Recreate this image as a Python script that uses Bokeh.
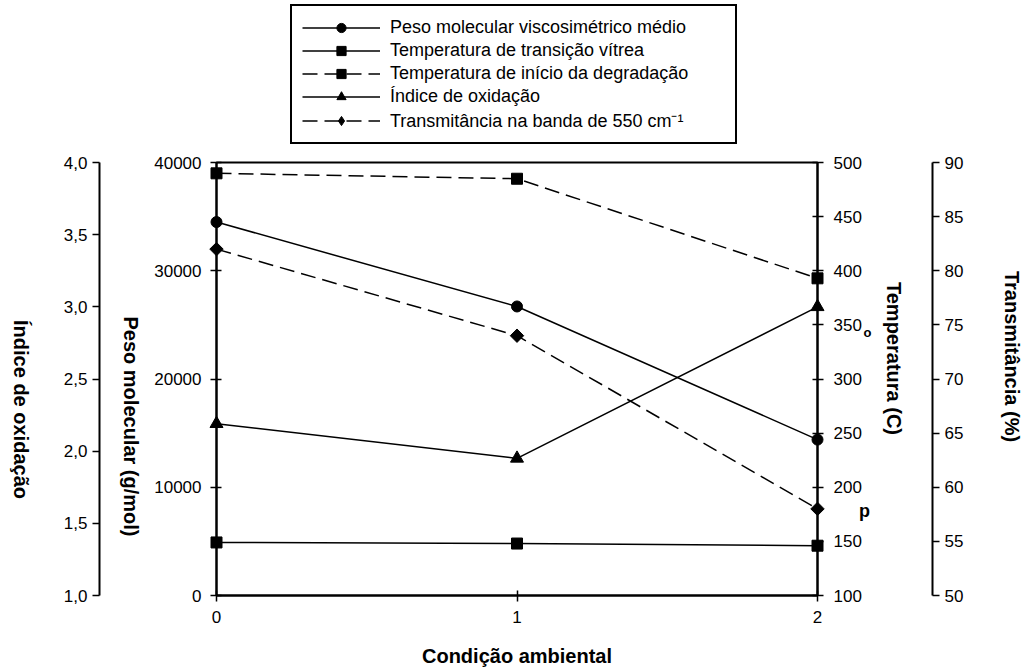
import math
from bokeh.plotting import figure
from bokeh.layouts import column
from bokeh.models import LinearAxis, Range1d, FixedTicker, Legend, LegendItem
from bokeh.core.properties import value
from bokeh.embed import file_html
from bokeh.resources import INLINE

# ---------------- data ----------------
condicao = [0, 1, 2]
peso_molecular = [34500, 26700, 14400]          # g/mol
temp_transicao_vitrea = [149, 148, 146]          # C
temp_inicio_degradacao = [490, 485, 393]         # C
indice_oxidacao = [2.19, 1.95, 3.0]
transmitancia = [82, 74, 58]                     # %

series_labels = [
    "Peso molecular viscosimétrico médio",
    "Temperatura de transição vítrea",
    "Temperatura de início da degradação",
    "Índice de oxidação",
    "Transmitância na banda de 550 cm\u207b\u00b9",
]

x_ticks = [0, 1, 2]
x_tick_labels = ["0", "1", "2"]
peso_ticks = [0, 10000, 20000, 30000, 40000]
peso_tick_labels = ["0", "10000", "20000", "30000", "40000"]
indice_ticks = [1.0, 1.5, 2.0, 2.5, 3.0, 3.5, 4.0]
indice_tick_labels = ["1,0", "1,5", "2,0", "2,5", "3,0", "3,5", "4,0"]
temp_ticks = [100, 150, 200, 250, 300, 350, 400, 450, 500]
temp_tick_labels = ["100", "150", "200", "250", "300", "350", "400", "450", "500"]
trans_ticks = [50, 55, 60, 65, 70, 75, 80, 85, 90]
trans_tick_labels = ["50", "55", "60", "65", "70", "75", "80", "85", "90"]

x_title = "Condição ambiental"
indice_title = "Índice de oxidação"
peso_title = "Peso molecular (g/mol)"
temp_title = "Temperatura (C)"
trans_title = "Transmitância (%)"

FONT = "Liberation Sans"
LW = 1.5
DASH = "15 7"

# series styles in the chart: (marker, size, angle, dash)
styles = [
    ("circle", 11, 0.0, "solid"),
    ("square", 11, 0.0, "solid"),
    ("square", 11, 0.0, DASH),
    ("triangle", 13, 0.0, "solid"),
    ("square", 9.5, math.pi / 4, DASH),
]
# markers used for the legend samples (legend samples ignore angle)
legend_markers = ["circle", "square", "square", "triangle", "diamond"]

W = 1023
LEG_H = 148

# ---------------- main figure ----------------
p = figure(width=W, height=667 - LEG_H,
           x_range=Range1d(0, 2), y_range=Range1d(0, 40000),
           output_backend="svg", toolbar_location=None,
           min_border_left=216, min_border_right=W - 817,
           min_border_top=14, min_border_bottom=667 - LEG_H - 14 - 433)
p.extra_y_ranges = {
    "indice": Range1d(1, 4),
    "temp": Range1d(100, 500),
    "trans": Range1d(50, 90),
}
p.xgrid.visible = False
p.ygrid.visible = False
p.outline_line_color = "black"
p.outline_line_width = 2
p.background_fill_color = "white"
p.border_fill_color = "white"


def style_axis(ax, ticks, labels, t_in, t_out, standoff):
    ax.ticker = FixedTicker(ticks=ticks)
    ax.major_label_overrides = {t: l for t, l in zip(ticks, labels)}
    ax.axis_line_color = "black"
    ax.axis_line_width = 2
    ax.major_tick_line_color = "black"
    ax.major_tick_line_width = 1.5
    ax.major_tick_in = t_in
    ax.major_tick_out = t_out
    ax.minor_tick_line_color = None
    ax.major_label_standoff = standoff
    ax.major_label_text_font = FONT
    ax.major_label_text_font_size = "17px"
    ax.major_label_text_color = "black"


xax = p.xaxis[0]
style_axis(xax, x_ticks, x_tick_labels, 5, 6, 9)

pax = p.yaxis[0]
style_axis(pax, peso_ticks, peso_tick_labels, 5, 6, 9)
pax.axis_label = " "
pax.axis_label_text_font_size = "1px"
pax.axis_label_standoff = 48

iax = LinearAxis(y_range_name="indice")
style_axis(iax, indice_ticks, indice_tick_labels, 0, 7, 5)
p.add_layout(iax, "left")

tax = LinearAxis(y_range_name="temp")
style_axis(tax, temp_ticks, temp_tick_labels, 5, 6, 10)
tax.axis_label = " "
tax.axis_label_text_font_size = "1px"
tax.axis_label_standoff = 64
p.add_layout(tax, "right")

rax = LinearAxis(y_range_name="trans")
style_axis(rax, trans_ticks, trans_tick_labels, 0, 7, 5)
p.add_layout(rax, "right")

series = [
    (peso_molecular, "default"),
    (temp_transicao_vitrea, "temp"),
    (temp_inicio_degradacao, "temp"),
    (indice_oxidacao, "indice"),
    (transmitancia, "trans"),
]
for (vals, rng), (mk, sz, ang, dash) in zip(series, styles):
    rl = p.line(condicao, vals, y_range_name=rng, line_color="black", line_width=LW, line_dash=dash)
    rm = p.scatter(condicao, vals, y_range_name=rng, marker=mk, size=sz, angle=ang, color="black")
    rl.level = "overlay"
    rm.level = "overlay"


def title(text, x, y, angle=-math.pi / 2, size="20px", style="bold"):
    r = p.text(x=[x], y=[y], text=[text], angle=angle,
               text_align="center", text_baseline="middle",
               text_font=value(FONT), text_font_style=style,
               text_font_size=size, text_color="black")
    r.level = "overlay"

title(x_title, 1.0, -5543, angle=0)
title(indice_title, -0.649, 17182)
title(peso_title, -0.283, 15612)
title(temp_title, 2.253, 21894)
title(trans_title, 2.646, 22079)
title("o", 2.166, 24296, angle=0, size="13px")
title("p", 2.156, 7760, angle=0, size="18px")

# ---------------- legend figure (above the chart) ----------------
q = figure(width=W, height=LEG_H, x_range=Range1d(0, 2), y_range=Range1d(-2, -1),
           output_backend="svg", toolbar_location=None,
           min_border_left=216, min_border_right=W - 817,
           min_border_top=0, min_border_bottom=0)
q.axis.visible = False
q.xgrid.visible = False
q.ygrid.visible = False
q.outline_line_color = None
q.background_fill_color = "white"
q.border_fill_color = "white"

items = []
for lab, (vals, rng), (mk, sz, ang, dash), lmk in zip(series_labels, series, styles, legend_markers):
    # same series, drawn outside this figure's visible y range: only their legend samples show
    ll = q.line(condicao, vals, line_color="black", line_width=LW, line_dash=dash)
    lm = q.scatter(condicao, vals, marker=lmk, size=sz, color="black")
    items.append(LegendItem(label=lab, renderers=[ll, lm]))

legend = Legend(items=items, location=(74, 4))
legend.margin = 0
legend.padding = 10
legend.spacing = 0
legend.glyph_width = 78
legend.glyph_height = 23
legend.label_height = 23
legend.label_width = 335
legend.label_standoff = 10
legend.label_text_font = FONT
legend.label_text_font_size = "18px"
legend.label_text_color = "black"
legend.border_line_color = "black"
legend.border_line_alpha = 1
legend.border_line_width = 2
legend.background_fill_color = "white"
legend.background_fill_alpha = 1
q.add_layout(legend)

layout = column(q, p, spacing=0)
open("out.html", "w").write(file_html(layout, INLINE))
